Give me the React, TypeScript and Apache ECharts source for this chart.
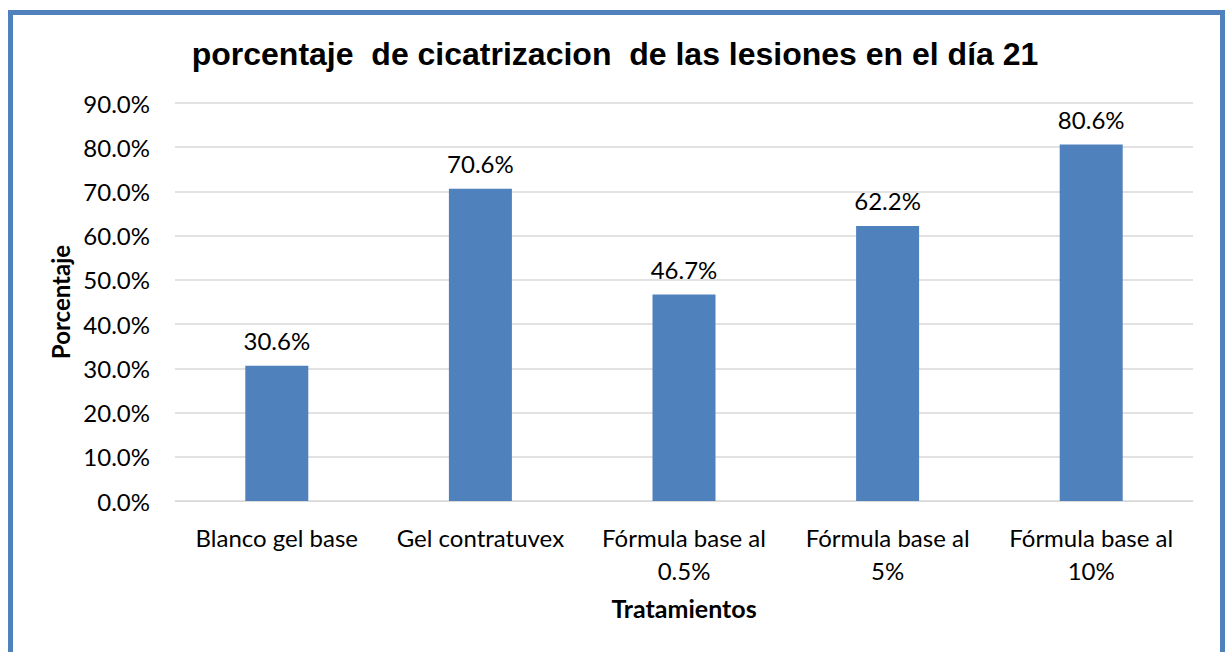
import React, { useEffect, useRef } from "react";
import * as echarts from "echarts";

const categories = [
  "Blanco gel base",
  "Gel contratuvex",
  "Fórmula base al\n0.5%",
  "Fórmula base al\n5%",
  "Fórmula base al\n10%",
];
const values = [30.6, 70.6, 46.7, 62.2, 80.6];
const titleText = "porcentaje  de cicatrizacion  de las lesiones en el día 21";
const yName = "Porcentaje";
const xName = "Tratamientos";

export default function App() {
  const ref = useRef<HTMLDivElement>(null);
  useEffect(() => {
    if (!ref.current) return;
    const chart = echarts.init(ref.current, null, { renderer: "svg" });
    chart.setOption({
      animation: false,
      backgroundColor: "#ffffff",
      title: {
        text: titleText,
        left: "center",
        top: 33,
        textStyle: {
          fontFamily: "Liberation Sans",
          fontWeight: "bold",
          fontSize: 32,
          color: "#000",
        },
      },
      graphic: [
        {
          type: "rect",
          shape: { x: 10.5, y: 12.5, width: 1212, height: 680 },
          style: { fill: "none", stroke: "#4F81BD", lineWidth: 5 },
          silent: true,
        },
      ],
      grid: { left: 175, right: 37, top: 103, bottom: 151 },
      xAxis: {
        type: "category",
        data: categories,
        name: xName,
        nameLocation: "middle",
        nameGap: 94,
        nameTextStyle: {
          fontFamily: "Lato",
          fontWeight: "bold",
          fontSize: 25,
          color: "#000",
        },
        axisLine: { show: true, lineStyle: { color: "#d9d9d9" } },
        axisTick: { show: false },
        axisLabel: {
          fontFamily: "Lato",
          fontSize: 24,
          color: "#000",
          lineHeight: 33,
          margin: 20,
          interval: 0,
        },
      },
      yAxis: {
        type: "value",
        min: 0,
        max: 90,
        interval: 10,
        name: yName,
        nameLocation: "middle",
        nameGap: 100,
        nameRotate: 90,
        nameTextStyle: {
          fontFamily: "Lato",
          fontWeight: "bold",
          fontSize: 24,
          color: "#000",
        },
        axisLine: { show: false },
        axisTick: { show: false },
        axisLabel: {
          fontFamily: "Lato",
          fontSize: 24,
          color: "#000",
          margin: 25,
          formatter: (v: number) => v.toFixed(1) + "%",
        },
        splitLine: { lineStyle: { color: "#d9d9d9", width: 1.5 } },
      },
      series: [
        {
          type: "bar",
          data: values,
          barWidth: 63,
          itemStyle: { color: "#4F81BD" },
          label: {
            show: true,
            position: "top",
            distance: 13,
            fontFamily: "Lato",
            fontSize: 24,
            color: "#000",
            formatter: (p: any) => p.value.toFixed(1) + "%",
          },
        },
      ],
    });
    return () => chart.dispose();
  }, []);
  return (
    <div
      ref={ref}
      style={{ position: "fixed", left: 0, top: 0, width: 1230, height: 652 }}
    />
  );
}
